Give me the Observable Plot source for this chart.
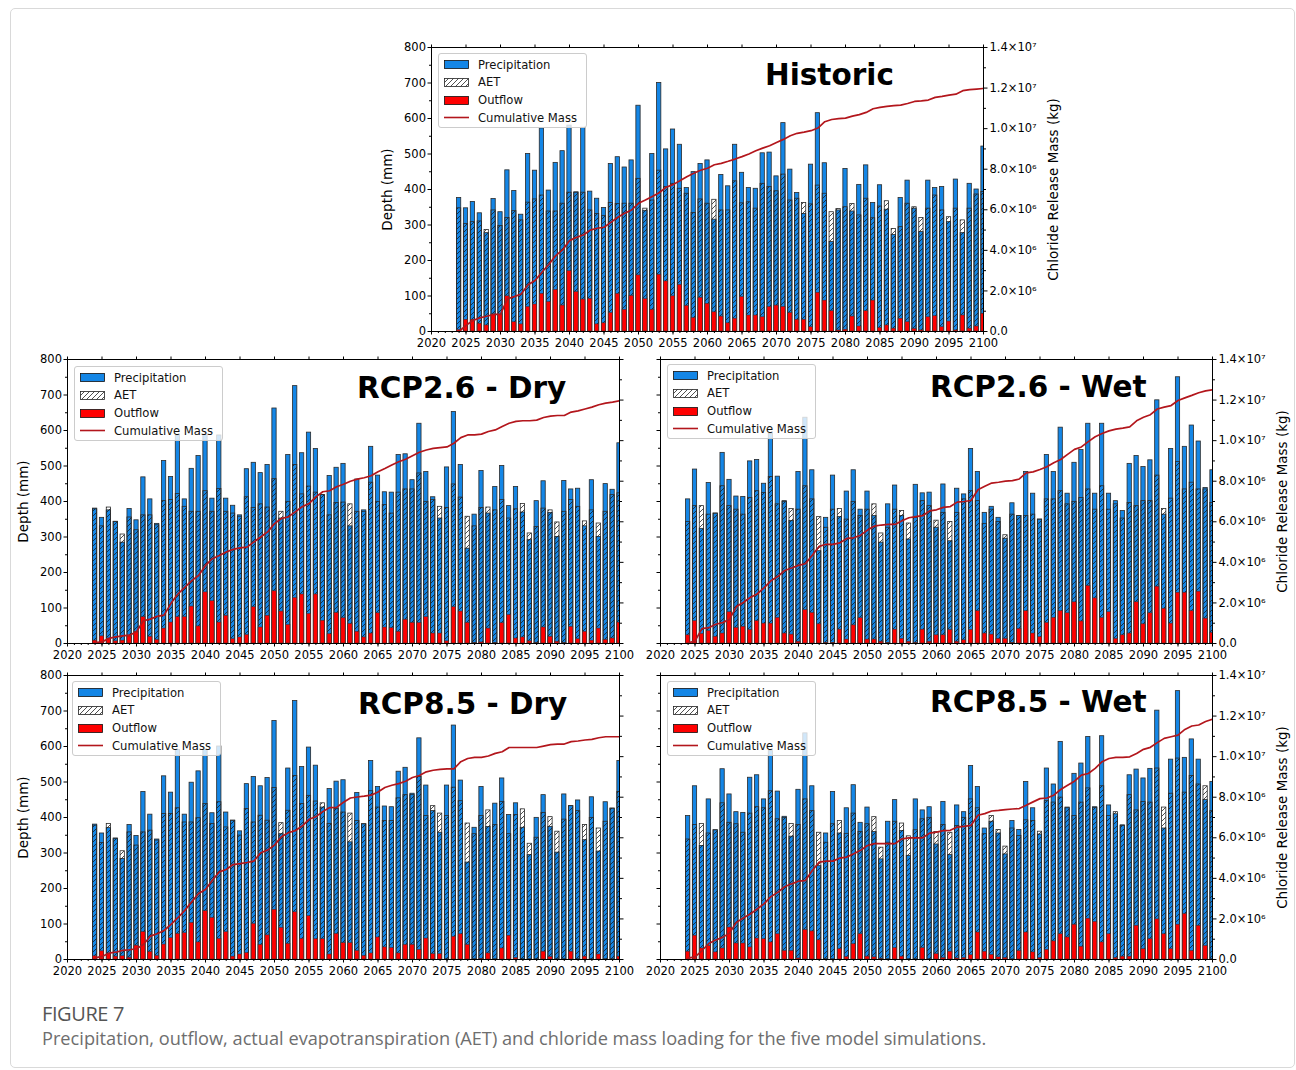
<!DOCTYPE html>
<html><head><meta charset="utf-8">
<script src="https://cdn.jsdelivr.net/npm/d3@7"></script>
<script src="https://cdn.jsdelivr.net/npm/@observablehq/plot@0.6"></script>
<style>
body{margin:0;background:#fff;font-family:"DejaVu Sans",sans-serif;}
#page{position:relative;width:1296px;height:1070px;overflow:hidden;}
#box{position:absolute;left:10px;top:8px;width:1285px;height:1060px;border:1px solid #d9d9d9;border-radius:5px;box-sizing:border-box;}
.panel{position:absolute;}
.legend{position:absolute;width:149px;height:75px;background:rgba(255,255,255,0.8);border:1px solid #cccccc;border-radius:3px;box-sizing:border-box;font-family:"DejaVu Sans";font-size:11.6px;color:#111;}
.row{position:absolute;left:5px;height:18px;display:flex;align-items:center;white-space:nowrap;}
.row svg{margin-right:9px;display:block;}
.title{position:absolute;font-family:"DejaVu Sans";font-weight:bold;font-size:29.5px;line-height:1;color:#000;white-space:nowrap;}
.cap1{position:absolute;left:42px;top:1002.5px;font-family:"Open Sans";font-size:20px;line-height:22px;color:#555;letter-spacing:-0.4px;}
.cap2{position:absolute;left:42px;top:1027.5px;font-family:"Open Sans";font-size:18.2px;line-height:20px;color:#6e6e6e;white-space:nowrap;}
</style>
</head><body>
<svg width="0" height="0" style="position:absolute">
 <defs>
  <pattern id="hatch" patternUnits="userSpaceOnUse" width="5" height="5">
   <path d="M-1,1 l2,-2 M0,5 l5,-5 M4,6 l2,-2" stroke="#151515" stroke-width="0.75"/>
  </pattern>
 </defs>
</svg>
<div id="page"><div id="box"></div></div>
<script>
// ---------- data (2024 .. 2100) ----------
const years = d3.range(2024, 2101);

const histP = [376,347,365,333,277,373,336,454,396,329, 500,453,572,397,475,508,580,392,574,394, 374,348,472,491,462,482,636,340,500,700, 513,569,526,404,449,472,482,315,441,409, 526,447,404,402,502,504,437,587,456,390, 331,470,615,474,252,341,458,338,413,468, 362,412,343,272,376,425,346,280,425,404, 407,308,428,277,416,400,521];
const histA = [347,303,308,310,286,341,297,320,339,313, 363,372,383,338,338,360,391,391,391,341, 331,325,362,359,360,360,430,346,369,453, 407,416,402,388,334,372,360,371,341,341, 423,361,364,346,416,407,395,442,369,374, 362,358,411,388,336,345,350,359,327,374, 319,352,367,289,294,360,350,320,346,383, 341,322,346,313,346,386,393];
const histO = [4,33,33,22,17,48,48,99,26,20, 69,76,106,83,117,73,170,111,90,92, 20,23,52,106,61,100,158,91,61,160, 141,99,131,72,38,95,78,54,42,23, 36,97,45,45,40,69,73,69,52,33, 33,12,109,87,57,3,5,42,14,57, 87,10,17,8,36,26,7,3,40,43, 12,28,3,45,8,14,50];
const histM = [0.0,0.3,0.54,0.67,0.75,0.84,0.84,1.61,1.72,1.85, 2.30,2.51,2.92,3.30,3.74,4.02,4.48,4.64,4.76,5.00, 5.09,5.14,5.38,5.63,5.83,5.99,6.32,6.48,6.66,6.84, 7.11,7.24,7.43,7.63,7.80,7.95,8.05,8.22,8.29,8.39, 8.50,8.62,8.75,8.91,9.04,9.16,9.32,9.47,9.65,9.77, 9.83,9.90,10.03,10.34,10.45,10.49,10.52,10.62,10.69,10.80, 10.98,11.05,11.10,11.13,11.16,11.24,11.34,11.37,11.41,11.54, 11.59,11.65,11.70,11.87,11.92,11.95,11.98];

const r26dP = [380,354,375,343,284,379,347,468,406,337, 514,469,586,406,492,528,588,408,586,408, 388,361,491,509,480,503,662,352,531,725, 536,594,548,418,472,495,506,330,462,375, 554,473,426,425,531,533,460,619,483,412, 352,496,652,503,267,363,486,366,441,500, 387,441,369,291,401,457,368,300,458,434, 436,330,460,300,449,433,564];
const r26dA = [378,330,383,342,307,355,319,361,361,333, 401,404,421,385,371,371,429,371,435,371, 366,357,412,382,392,383,463,371,399,503, 420,442,425,418,361,396,397,392,371,371, 453,399,390,366,425,434,434,479,399,404, 385,382,448,411,357,330,382,383,375,404, 352,378,393,310,328,380,375,341,371,404, 385,344,375,338,371,418,423];
const r26dO = [8,20,14,6,8,20,33,74,19,10, 42,59,74,74,104,48,144,119,59,78, 12,17,24,102,45,78,147,90,52,128, 138,83,138,64,26,86,71,55,33,17, 28,85,45,43,33,67,58,58,74,28, 28,6,102,90,58,1,3,42,1,57, 80,14,17,6,1,45,19,5,1,47, 12,33,8,42,10,14,59];
const r26dM = [0.05,0.08,0.25,0.33,0.38,0.41,0.58,1.12,1.20,1.34, 1.40,1.98,2.44,2.77,3.10,3.35,3.85,4.18,4.34,4.51, 4.64,4.71,4.75,5.00,5.25,5.50,5.91,6.16,6.24,6.49, 6.74,6.90,7.23,7.48,7.53,7.73,7.85,8.00,8.10,8.17, 8.27,8.47,8.63,8.80,8.96,9.08,9.26,9.43,9.54,9.62, 9.66,9.69,9.87,10.15,10.28,10.28,10.32,10.45,10.53,10.70, 10.86,10.95,10.98,10.98,11.01,11.14,11.21,11.24,11.24,11.41, 11.47,11.56,11.65,11.77,11.85,11.90,11.97];

const r26wP = [406,490,323,452,366,537,461,414,413,513, 517,450,590,470,401,345,483,636,488,260, 354,473,356,428,488,377,428,359,284,392, 445,359,293,447,423,425,326,448,288,436, 420,548,483,368,385,354,295,395,359,483, 422,349,531,483,608,422,509,545,619,422, 619,422,401,373,506,528,497,516,685,363, 548,750,554,614,569,438,488];
const r26wA = [342,387,387,363,366,443,387,377,363,410, 429,424,469,392,399,379,377,443,406,356, 326,377,379,349,399,359,377,392,310,326, 377,373,338,354,401,387,346,368,342,368, 406,429,401,337,377,342,305,363,359,359, 363,349,406,406,429,392,399,410,434,377, 443,377,392,352,396,387,401,401,473,379, 408,511,434,453,434,434,396];
const r26wO = [23,63,27,35,19,28,88,44,47,38, 63,56,56,72,28,25,5,94,86,54, 2,2,39,11,51,71,11,11,5,2, 39,13,5,2,39,5,23,23,38,5, 9,38,91,28,25,13,13,2,41,91, 28,18,58,72,91,85,116,62,162,127, 72,88,13,23,28,116,54,85,160,98, 56,143,143,91,146,70,30];
const r26wM = [0.03,0.12,0.73,0.78,0.95,1.03,1.19,1.82,2.02,2.27, 2.44,2.74,3.09,3.30,3.60,3.72,3.85,3.93,4.35,4.79, 4.89,4.89,4.96,5.18,5.21,5.34,5.59,5.79,5.84,5.87, 5.87,6.05,6.20,6.25,6.30,6.54,6.59,6.71,6.75,6.97, 7.00,7.05,7.58,7.75,7.91,7.95,8.00,8.03,8.11,8.41, 8.46,8.58,8.71,8.91,9.07,9.32,9.57,9.69,9.95,10.19, 10.35,10.48,10.57,10.62,10.68,10.98,11.15,11.28,11.56,11.65, 11.73,11.98,12.11,12.23,12.36,12.45,12.51];

const r85dP = [380,355,370,341,283,379,348,472,408,338, 516,470,590,408,498,530,590,412,600,414, 391,361,494,514,488,511,672,353,538,728, 542,597,546,428,480,501,505,330,469,381, 559,486,431,429,529,540,467,623,490,418, 357,490,659,504,273,371,486,373,439,510, 407,440,371,294,399,463,373,301,465,432, 448,336,457,304,443,425,559];
const r85dA = [377,328,382,339,305,358,321,358,363,335, 410,410,426,386,386,398,438,382,443,372, 391,349,424,386,405,391,483,384,419,517, 438,461,445,440,382,424,414,411,390,381, 474,428,390,390,454,463,463,514,404,432, 411,404,484,446,383,353,404,420,379,444, 353,407,423,326,343,413,401,360,394,432, 418,379,399,369,388,425,472];
const r85dO = [9,23,16,8,9,5,39,77,21,10, 42,60,72,74,103,48,136,117,58,77, 8,14,18,100,41,68,140,89,44,133, 58,122,57,57,14,72,46,46,24,10, 17,62,34,32,17,41,41,27,59,15, 15,0,64,71,41,0,2,17,0,31, 67,4,0,0,0,22,7,0,0,22, 0,8,0,14,0,0,8];
const r85dM = [0.08,0.15,0.31,0.36,0.45,0.48,0.53,0.74,1.15,1.27, 1.43,1.73,2.06,2.42,2.84,3.25,3.45,3.91,4.32,4.44, 4.68,4.73,4.78,4.85,5.26,5.39,5.64,6.05,6.25,6.35, 6.58,6.91,7.04,7.29,7.49,7.50,7.75,7.96,8.01,8.05, 8.10,8.26,8.48,8.59,8.67,8.79,8.97,9.07,9.25,9.33, 9.37,9.40,9.40,9.75,9.91,9.96,9.96,10.03,10.16,10.24, 10.45,10.45,10.45,10.45,10.45,10.52,10.59,10.62,10.62,10.74, 10.77,10.82,10.85,10.93,10.98,10.98,10.98];

const r85wP = [404,488,320,451,364,536,465,415,413,512, 519,451,587,473,402,346,478,637,488,263, 355,472,355,426,491,385,428,359,282,388, 449,362,292,451,420,429,324,444,294,434, 415,545,486,369,388,355,296,390,365,500, 426,352,538,493,613,428,523,552,627,429, 629,434,409,378,519,535,510,537,701,369, 563,756,568,620,563,449,500];
const r85wA = [338,379,382,355,364,440,385,381,357,411, 429,426,474,395,399,382,379,451,418,357, 329,381,390,354,411,359,381,401,315,329, 388,383,347,364,395,399,359,379,357,376, 399,451,426,353,404,365,318,369,348,392, 390,360,446,442,456,426,404,442,482,427, 488,404,415,376,463,420,444,442,538,428, 467,566,470,517,493,488,418];
const r85wO = [22,67,31,38,20,31,90,45,45,34, 59,57,48,71,24,24,3,83,79,54, 0,0,29,7,43,71,8,6,2,0, 32,8,0,0,32,0,15,4,22,3, 4,12,76,22,13,6,4,0,24,76, 20,4,27,51,71,62,98,36,115,106, 48,71,4,8,8,95,29,57,113,71, 29,98,128,24,95,38,0];
const r85wM = [0.07,0.13,0.43,0.79,0.96,1.09,1.30,1.83,2.05,2.24, 2.49,2.74,3.10,3.31,3.59,3.73,3.86,3.89,4.39,4.80, 4.85,4.85,5.00,5.05,5.21,5.38,5.62,5.71,5.71,5.71, 5.71,5.95,6.00,6.00,6.00,6.23,6.28,6.35,6.37,6.53, 6.56,6.61,7.11,7.19,7.32,7.35,7.39,7.42,7.44,7.60, 7.77,7.93,7.96,8.10,8.38,8.59,8.79,9.09,9.17,9.42, 9.75,9.91,9.96,9.96,9.99,10.16,10.36,10.46,10.69,10.90, 10.98,11.06,11.34,11.51,11.56,11.73,11.84];

const legendLabels = ["Precipitation", "AET", "Outflow", "Cumulative Mass"];
const depthLabel = "Depth (mm)";
const massLabel = "Chloride Release Mass (kg)";
const yearTicks = d3.range(2020, 2101, 5);
const yearMinor = d3.range(2020, 2101, 1);
const depthTicks = d3.range(0, 801, 100);
const depthMinor = d3.range(50, 800, 100);
const massTicks = d3.range(0, 1.4e7 + 1, 2e6);
const massMinor = d3.range(1e6, 1.4e7, 2e6);

// ---------- drawing ----------
const BLUE = "#1486e6", RED = "#ff0000", LINE = "#b3161c";
const FW = 552, FH = 284, mL = 70, mR = 100, mT = 12, mB = 28;
const SUP = "⁰¹²³⁴⁵⁶⁷⁸⁹";
function fmtMass(v) {
  if (v === 0) return "0.0";
  const e = Math.floor(Math.log10(v) + 1e-9);
  return (v / 10 ** e).toFixed(1) + "×10" + String(e).split("").map(c => SUP[+c]).join("");
}

const panels = [
  {title: "Historic", P: histP, A: histA, O: histO, M: histM, fx: 431, fy: 47, left: true, right: true, tx: 765, ty: 60.5, lx: 438, ly: 53},
  {title: "RCP2.6 - Dry", P: r26dP, A: r26dA, O: r26dO, M: r26dM, fx: 67, fy: 359, left: true, right: false, tx: 357, ty: 374, lx: 74, ly: 366},
  {title: "RCP2.6 - Wet", P: r26wP, A: r26wA, O: r26wO, M: r26wM, fx: 660, fy: 359, left: false, right: true, tx: 930, ty: 372.5, lx: 667, ly: 364},
  {title: "RCP8.5 - Dry", P: r85dP, A: r85dA, O: r85dO, M: r85dM, fx: 67, fy: 675, left: true, right: false, tx: 358, ty: 689.5, lx: 72, ly: 681},
  {title: "RCP8.5 - Wet", P: r85wP, A: r85wA, O: r85wO, M: r85wM, fx: 660, fy: 675, left: false, right: true, tx: 930, ty: 688, lx: 667, ly: 681}
];

const page = document.getElementById("page");
const style = {background: "transparent", overflow: "visible", fontFamily: "DejaVu Sans", fontSize: "11.5px", color: "#000"};
const half = 0.31;

for (const p of panels) {
  for (const k of ["P", "A", "O", "M"]) if (p[k].length !== years.length) throw new Error(p.title + " " + k + " length " + p[k].length);
  const data = years.map((year, i) => ({year, P: p.P[i], A: p.A[i], O: p.O[i], M: p.M[i] * 1e6}));
  const common = {width: FW + mL + mR, height: FH + mT + mB, marginLeft: mL, marginRight: mR, marginTop: mT, marginBottom: mB, style};

  const bars = Plot.plot({
    ...common,
    x: {domain: [2020, 2100], axis: null},
    y: {domain: [0, 800], axis: null},
    marks: [
      Plot.rect(data, {x1: d => d.year - half, x2: d => d.year + half, y1: 0, y2: "P", fill: BLUE, stroke: "#2a2a2a", strokeWidth: 0.8, clip: true}),
      Plot.rect(data, {x1: d => d.year - half, x2: d => d.year + half, y1: 0, y2: "A", fill: "url(#hatch)", stroke: "#2a2a2a", strokeWidth: 0.8, clip: true}),
      Plot.rect(data, {x1: d => d.year - half, x2: d => d.year + half, y1: 0, y2: "O", fill: RED, stroke: "#333", strokeWidth: 0.5, clip: true}),
      Plot.axisX(yearTicks, {anchor: "bottom", tickSize: 3.5, tickPadding: 3.5, tickFormat: d => String(d), label: null}),
      Plot.axisX(yearMinor, {anchor: "bottom", tickSize: 2, tickFormat: () => "", label: null}),
      Plot.axisX(yearTicks, {anchor: "top", tickSize: 3.5, tickFormat: () => "", label: null}),
      Plot.axisY(depthTicks, {anchor: "left", tickSize: 3.5, tickPadding: 2, tickFormat: p.left ? (d => String(d)) : (() => ""), label: null}),
      Plot.axisY(depthMinor, {anchor: "left", tickSize: 2, tickFormat: () => "", label: null}),
      p.left ? Plot.text([depthLabel], {frameAnchor: "left", text: d => d, rotate: -90, dx: -44, fontSize: 13.5, lineAnchor: "middle", textAnchor: "middle"}) : null,
      Plot.frame({stroke: "#000", strokeWidth: 1})
    ]
  });
  bars.classList.add("panel");
  bars.style.left = (p.fx - mL) + "px";
  bars.style.top = (p.fy - mT) + "px";
  page.appendChild(bars);

  const mass = Plot.plot({
    ...common,
    x: {domain: [2020, 2100], axis: null},
    y: {domain: [0, 1.4e7], axis: null},
    marks: [
      Plot.line(data, {x: "year", y: "M", stroke: LINE, strokeWidth: 1.7, clip: true}),
      Plot.axisY(massTicks, {anchor: "right", tickSize: 3.5, tickPadding: 2.5, tickFormat: p.right ? fmtMass : (() => ""), label: null}),
      Plot.axisY(massMinor, {anchor: "right", tickSize: 2, tickFormat: () => "", label: null}),
      p.right ? Plot.text([massLabel], {frameAnchor: "right", text: d => d, rotate: -90, dx: 70, fontSize: 13.5, lineAnchor: "middle", textAnchor: "middle"}) : null
    ]
  });
  mass.classList.add("panel");
  mass.style.left = (p.fx - mL) + "px";
  mass.style.top = (p.fy - mT) + "px";
  page.appendChild(mass);

  // legend
  const lg = document.createElement("div");
  lg.className = "legend";
  lg.style.left = p.lx + "px";
  lg.style.top = p.ly + "px";
  const patches = [
    `<rect x="0.5" y="0.5" width="24" height="8" fill="${BLUE}" stroke="#111" stroke-width="0.8"/>`,
    `<rect x="0.5" y="0.5" width="24" height="8" fill="url(#hatch)" stroke="#222" stroke-width="0.8"/>`,
    `<rect x="0.5" y="0.5" width="24" height="8" fill="${RED}" stroke="#111" stroke-width="0.8"/>`,
    `<line x1="0" x2="25" y1="4.5" y2="4.5" stroke="${LINE}" stroke-width="1.6"/>`
  ];
  lg.innerHTML = legendLabels.map((t, i) =>
    `<div class="row" style="top:${1.5 + i * 17.8}px"><svg width="25" height="9">${patches[i]}</svg><span>${t}</span></div>`).join("");
  page.appendChild(lg);

  const tt = document.createElement("div");
  tt.className = "title";
  tt.style.left = p.tx + "px";
  tt.style.top = p.ty + "px";
  tt.textContent = p.title;
  page.appendChild(tt);
}

const c1 = document.createElement("div"); c1.className = "cap1"; c1.textContent = "FIGURE 7"; page.appendChild(c1);
const c2 = document.createElement("div"); c2.className = "cap2";
c2.textContent = "Precipitation, outflow, actual evapotranspiration (AET) and chloride mass loading for the five model simulations.";
page.appendChild(c2);
</script>
</body></html>
